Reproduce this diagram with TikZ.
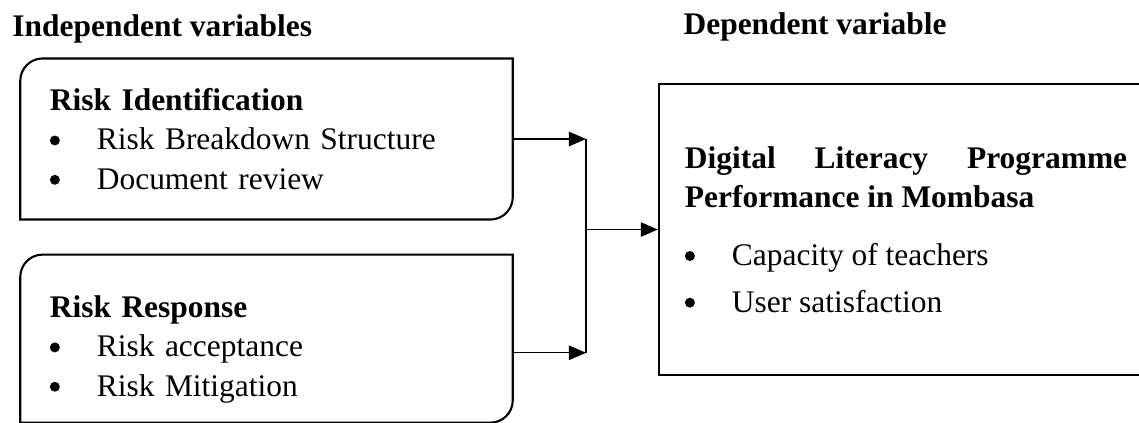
\documentclass[tikz,border=0pt]{standalone}
\usepackage{fontspec}
\setmainfont{Liberation Serif}
\usetikzlibrary{
    arrows.meta,
    positioning,
    calc,
}
\newcommand{\bul}{\makebox[0.63cm][l]{\tikz[baseline=-3.6pt]\fill (1.9pt,0) circle (1.9pt);}}

\begin{document}
\begin{tikzpicture}[
    font=\fontsize{12}{15}\selectfont,
    heading/.style={font=\fontsize{12}{15}\selectfont\bfseries, anchor=base west, inner sep=0pt},
    varbox/.style={text width=5.81cm, inner xsep=0.39cm, inner ysep=0pt,
                minimum height=#1, align=left},
    depbox/.style={draw, line width=0.8pt, text width=5.93cm, inner xsep=0.35cm,
                inner ysep=0pt, minimum height=3.9cm, align=justify},
    boxline/.style={line width=0.8pt},
    flow/.style={-{Triangle[length=6.5pt,width=5.5pt]}, line width=0.5pt},
    link/.style={line width=0.5pt},
]
\useasboundingbox (0,0) rectangle (15.274,-5.672);

\node[heading] (indep) at (0.16,-0.483) {Independent variables};
\node[heading] (dep) at (9.16,-0.469) {Dependent variable};

\node[varbox=2.146cm] (ident) at (3.574,-1.864)
    {\textbf{Risk Identification}\\
     \bul Risk Breakdown Structure\\
     \bul Document review};
\node[varbox=2.24cm] (resp) [below=0.47cm of ident]
    {\rule{0pt}{16.5pt}\textbf{Risk Response}\\
     \bul Risk acceptance\\
     \bul Risk Mitigation};

% boxes with two rounded corners
\foreach \b in {ident,resp}
    \draw[boxline] (\b.south west) -- ([yshift=-0.3cm]\b.north west)
        arc[start angle=180, end angle=90, radius=0.3cm] -- (\b.north east)
        -- ([yshift=0.3cm]\b.south east)
        arc[start angle=0, end angle=-90, radius=0.3cm] -- cycle;

\node[depbox] (dlp) at (12.15,-3.078)
    {\textbf{Digital Literacy Programme\linebreak Performance in Mombasa}\\[7pt]
     \bul Capacity of teachers\\[2.8pt]
     \bul User satisfaction};

\coordinate (jx) at (7.858,0);
\draw[flow] (ident.east) -- (ident.east -| jx);
\draw[flow] ([yshift=-0.19cm]resp.east) -- ([yshift=-0.19cm]resp.east -| jx);
\draw[link] (ident.east -| jx) -- ([yshift=-0.19cm]resp.east -| jx);
\draw[flow] (dlp.west -| jx) -- (dlp.west);

\end{tikzpicture}
\end{document}
